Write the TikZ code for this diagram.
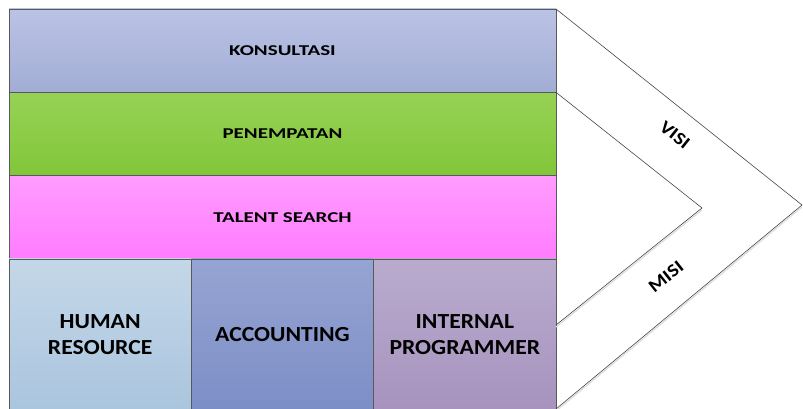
\documentclass[tikz,border=0pt]{standalone}
\usepackage{fontspec}
\setmainfont{Carlito}
\newfontfamily\bandface{Carlito}[FakeStretch=1.4]
\newfontfamily\unitface{Carlito}[FakeStretch=1.1]
\newfontfamily\tagface{Carlito}[FakeStretch=1.15]
\usetikzlibrary{positioning}

\definecolor{edgegray}{RGB}{89,89,89}
\definecolor{linegray}{RGB}{70,70,70}
\definecolor{shadowgray}{RGB}{220,220,220}

\begin{document}
\begin{tikzpicture}[x=1pt,y=1pt,
	band/.style={draw=edgegray, line width=0.8pt, outer sep=0pt, inner sep=0pt,
		minimum width=547pt, minimum height=83.33pt,
		font=\bandface\fontsize{15}{18}\selectfont\bfseries},
	unit/.style={draw=edgegray, line width=0.8pt, outer sep=0pt, inner sep=0pt,
		minimum width=182.33pt, minimum height=151pt, align=center,
		font=\unitface\fontsize{21.5}{26.5}\selectfont\bfseries},
	arm/.style={draw=linegray, line width=0.6pt},
	armshadow/.style={draw=shadowgray, line width=1.2pt},
	tag/.style={font=\tagface\fontsize{18}{20}\selectfont\bfseries}]
	
	\useasboundingbox (0,0) rectangle (803,409);
	
	% layanan
	\node[band, top color={rgb,255:red,187;green,195;blue,229}, bottom color={rgb,255:red,162;green,173;blue,213}]
		(Konsultasi) at (282.5,358.33) {KONSULTASI};
	\node[band, below=0pt of Konsultasi, top color={rgb,255:red,150;green,210;blue,85}, bottom color={rgb,255:red,130;green,198;blue,58}]
		(Penempatan) {PENEMPATAN};
	\node[band, below=0pt of Penempatan, top color={rgb,255:red,255;green,156;blue,255}, bottom color={rgb,255:red,255;green,124;blue,255}]
		(TalentSearch) {TALENT SEARCH};
	
	% divisi
	\node[unit, anchor=north west, top color={rgb,255:red,196;green,215;blue,232}, bottom color={rgb,255:red,170;green,197;blue,222}]
		(HumanRes) at (TalentSearch.south west) {HUMAN\\RESOURCE};
	\node[unit, right=0pt of HumanRes, top color={rgb,255:red,150;green,164;blue,210}, bottom color={rgb,255:red,124;green,142;blue,198}]
		(Accounting) {ACCOUNTING};
	\node[unit, right=0pt of Accounting, top color={rgb,255:red,185;green,171;blue,206}, bottom color={rgb,255:red,167;green,147;blue,190}]
		(Programmer) {INTERNAL\\PROGRAMMER};
	
	% visi misi
	\coordinate (VisiTip) at (802,204);
	\coordinate (MisiTip) at (702,201);
	\coordinate (OuterEnd) at (556,0);
	\coordinate (InnerEnd) at (556,84);
	
	\draw[armshadow] ([yshift=-2pt]VisiTip) -- ([yshift=-2pt]OuterEnd);
	\draw[armshadow] ([yshift=-2pt]MisiTip) -- ([yshift=-2pt]InnerEnd);
	\draw[arm] (Konsultasi.north east) -- (VisiTip) -- (OuterEnd);
	\draw[arm] (Konsultasi.south east) -- (MisiTip) -- (InnerEnd);
	
	\node[tag, rotate=-38.5] (Visi) at (675,274) {VISI};
	\node[tag, rotate=38.5] (Misi) at (666,132) {MISI};
	
\end{tikzpicture}
\end{document}
